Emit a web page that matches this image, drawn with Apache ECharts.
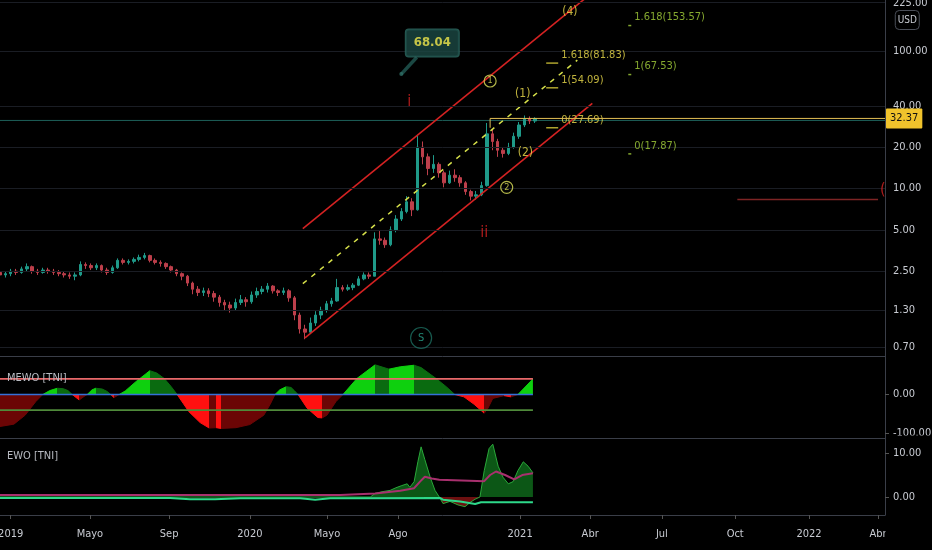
<!DOCTYPE html>
<html><head><meta charset="utf-8">
<script src="https://cdn.jsdelivr.net/npm/echarts@6/dist/echarts.min.js"></script>
<style>html,body{margin:0;padding:0;background:#000}#c{width:932px;height:550px}</style>
</head><body><div id="c"></div><script>
const FONT = "'Liberation Sans Narrow','DejaVu Sans Condensed','Roboto Condensed',Roboto,sans-serif";

// x unit: week index of the chart (weekly candles)
const xMax = 165.4;
const monthTicks  = [2.0, 16.8, 31.6, 46.7, 61.1, 74.4, 97.2, 110.3, 123.7, 137.4, 151.2, 164.1];
const monthLabels = ['2019','Mayo','Sep','2020','Mayo','Ago','2021','Abr','Jul','Oct','2022','Abr'];

const priceTicks = [0.7, 1.3, 2.5, 5, 10, 20, 40, 100, 225];
const lastPrice = 32.37;

// weekly candles [open, close, low, high]
const candles = [
[2.45,2.35,2.2,2.55],[2.35,2.4,2.25,2.5],[2.4,2.5,2.3,2.6],[2.5,2.45,2.35,2.6],[2.45,2.6,2.4,2.7],
[2.6,2.7,2.5,2.85],[2.7,2.5,2.4,2.75],[2.5,2.45,2.35,2.6],[2.45,2.55,2.4,2.65],[2.55,2.5,2.4,2.65],
[2.5,2.45,2.35,2.6],[2.45,2.4,2.3,2.55],[2.4,2.35,2.25,2.5],[2.35,2.3,2.2,2.45],[2.3,2.35,2.15,2.45],
[2.35,2.8,2.3,2.95],[2.8,2.75,2.6,2.9],[2.75,2.65,2.55,2.85],[2.65,2.75,2.55,2.85],[2.75,2.55,2.45,2.8],
[2.55,2.45,2.35,2.65],[2.45,2.65,2.4,2.75],[2.65,3.0,2.6,3.1],[3.0,2.9,2.8,3.1],[2.9,2.95,2.8,3.05],
[2.95,3.05,2.85,3.15],[3.05,3.15,2.95,3.3],[3.15,3.25,3.05,3.4],[3.25,3.0,2.9,3.3],[3.0,2.9,2.8,3.1],
[2.9,2.85,2.7,3.0],[2.85,2.7,2.6,2.9],[2.7,2.55,2.45,2.75],[2.55,2.4,2.3,2.6],[2.4,2.3,2.15,2.45],
[2.3,2.05,1.95,2.35],[2.05,1.85,1.7,2.1],[1.85,1.75,1.65,1.95],[1.75,1.8,1.65,1.9],[1.8,1.72,1.62,1.88],
[1.72,1.62,1.5,1.8],[1.62,1.48,1.38,1.68],[1.48,1.42,1.3,1.55],[1.42,1.35,1.25,1.5],[1.35,1.48,1.3,1.58],
[1.48,1.55,1.42,1.68],[1.55,1.5,1.38,1.62],[1.5,1.68,1.45,1.78],[1.68,1.78,1.6,1.9],[1.78,1.85,1.7,1.95],
[1.85,1.95,1.75,2.05],[1.95,1.8,1.72,1.98],[1.8,1.75,1.65,1.85],[1.75,1.8,1.68,1.9],[1.8,1.6,1.5,1.85],
[1.6,1.2,1.1,1.65],[1.2,0.95,0.88,1.25],[0.95,0.9,0.8,1.02],[0.9,1.05,0.88,1.15],[1.05,1.2,1.0,1.28],
[1.2,1.3,1.12,1.38],[1.3,1.45,1.25,1.52],[1.45,1.52,1.38,1.6],[1.52,1.9,1.5,2.2],[1.9,1.85,1.78,1.98],
[1.85,1.9,1.8,2.0],[1.9,1.98,1.82,2.05],[1.98,2.2,1.95,2.3],[2.2,2.35,2.15,2.45],[2.35,2.3,2.2,2.45],
[2.3,4.3,2.3,4.8],[4.3,4.2,3.9,4.9],[4.2,3.9,3.7,4.4],[3.9,5.0,3.8,5.3],[5.0,6.0,4.8,6.4],
[6.0,6.8,5.8,7.2],[6.8,8.0,6.6,8.8],[8.0,7.0,6.3,8.5],[7.0,20,6.9,24.4],[20,17,15,22],
[17,14,12.5,18],[14,15,13,17.5],[15,13,12,15.5],[13,11,10.2,13.5],[11,12.5,10.8,13.5],
[12.5,12,11.2,13.8],[12,11,10.3,12.5],[11,9.5,9.0,11.3],[9.5,8.8,8.2,9.8],[8.8,9.0,8.3,9.6],
[9.0,10.5,8.8,11.2],[10.5,25,10.3,30],[25,22,19,27],[22,19,17,23],[19,18,16.8,20],
[18,20,17.5,21.5],[20,24,19.5,25.5],[24,29,23,30.5],[29,32,28,34],[32,31,29.5,33.5],
[31,32.37,30,33]
];

// drawings on the price pane [week, price]
const channelUpper = [[56.6, 5.11], [110.3, 258.9]];
const channelLower = [[57.0, 0.817], [110.7, 41.7]];
const channelMid   = [[56.6, 2.03], [107.9, 86.0]];
const redLevel     = [[137.8, 8.31], [164.1, 8.31]];
const tealLevel    = [[0, 31.3], [xMax, 31.3]];
const priceLine    = [[91.6, 27.69], [91.6, lastPrice], [xMax, lastPrice]];
const callout      = [75.0, 68.04, '68.04'];
const calloutTail  = [[75.0, 68.04], [77.9, 90.2]];
const redWaveLabels    = [[76.5, 42.7, 'i'], [90.5, 4.77, 'ii'], [165.0, 9.83, '(']];
const yellowWaveLabels = [[106.5, 192.6, '(4)'], [97.7, 48.5, '(1)'], [98.2, 18.3, '(2)']];
const circledLabels    = [[91.6, 60.6, '1'], [94.7, 10.2, '2']];
const sLabel           = [78.7, 0.817, 'S'];
const fibYellow = [[103.2, 81.83, '1.618(81.83)'], [103.2, 54.09, '1(54.09)'], [103.2, 27.69, '0(27.69)']];
const fibGreen  = [[117.7, 153.57, '1.618(153.57)'], [117.7, 67.53, '1(67.53)'], [117.7, 17.87, '0(17.87)']];

// MEWO oscillator [week, value]
const mewo = [[0,-82],[2.6,-76],[4.7,-53],[6.7,-18],[8.0,0],[9.3,10],[10.7,16],[11.8,15],[12.7,10],[13.5,0],
[14.8,-14],[15.7,-5],[16.3,0],[17.2,12],[17.9,16],[19.1,14],[20.0,8],[20.7,0],[21.3,-8],[21.9,-3],[22.2,0],
[23.4,9],[25.4,33],[28.0,61],[29.3,55],[30.7,41],[32.0,20],[33.1,0],[34.2,-22],[35.3,-44],[37.4,-72],
[39.1,-86],[40.4,-85],[41.3,-87],[44.1,-85],[46.7,-77],[49.3,-53],[50.5,-25],[51.4,0],[52.3,12],[53.5,20],
[54.4,18],[55.0,10],[55.7,0],[57.4,-35],[59.4,-59],[60.2,-60],[61.1,-53],[62.8,-18],[64.1,0],[66.7,41],
[70.1,76],[72.7,65],[74.8,71],[77.4,75],[78.7,69],[81.5,41],[83.4,20],[85.0,0],[86.7,-6],[88.6,-25],
[90.5,-48],[91.2,-35],[92.1,-10],[94.2,-3],[95.5,-6],[96.8,0],[99.6,40]];
const mewoEnd = 99.6;
const mewoLevels = [40, 0, -40];

// EWO histogram and signal lines [week, value]
const ewoHist = [[0,0],[69.2,0],[70.1,0.8],[71.4,1.2],[72.9,1.5],[74.0,2.1],[75.1,2.6],[76.1,3.0],[76.6,2.2],
[77.4,3.5],[78.1,8],[78.7,11.4],[79.4,8.5],[80.4,4.5],[81.3,1.5],[82.1,0],[82.8,-1.5],[84.1,-1.0],[85.6,-1.8],
[86.9,-2.2],[87.9,-1.2],[88.8,-0.5],[89.7,0],[90.5,6],[91.4,11],[92.1,12],[93.1,7],[94.0,4.5],[95.0,3],
[95.9,3.5],[96.8,6],[97.8,8],[98.7,7],[99.6,5.5]];
const ewoSignal = [[0,0.45],[63.6,0.45],[70.1,0.8],[74.8,1.4],[77.4,2.0],[78.5,3.5],[79.4,4.6],[80.7,4.2],
[82.1,3.9],[90.5,3.6],[91.6,5.0],[92.7,5.8],[94.4,5.0],[96.1,4.0],[97.6,5.0],[99.6,5.4]];
const ewoSlow = [[0,-0.2],[31.8,-0.2],[35.5,-0.5],[40.2,-0.5],[44.9,-0.3],[56.1,-0.3],[58.9,-0.6],[61.7,-0.3],
[82.2,-0.2],[82.8,-0.6],[86.0,-1.0],[88.8,-1.6],[89.9,-1.2],[99.6,-1.2]];

// ---------- styling ----------
const LABEL = '#c8cbd2', AXIS = '#3a3e48', GRIDLINE = '#1a1d24';
const YEL = '#efdf4c', GRN = '#a5d13b', RED = '#d42222';
const FS = 11;

const mewoPieces = [];
for (let i = 0; i < mewo.length - 1; i++) {
  const a = mewo[i], b = mewo[i + 1];
  const pos = a[1] + b[1] > 0, up = b[1] > a[1];
  const color = pos ? (up ? '#0ed00e' : '#0a6b10') : (up ? '#6b0505' : '#ff1010');
  const p = {gte: a[0], color};
  if (i === mewo.length - 2) p.lte = b[0]; else p.lt = b[0];
  mewoPieces.push(p);
}

const hidden = 'rgba(0,0,0,0)';
const annotations = [];
annotations.push({value: [callout[0], callout[1]], symbol: 'circle', symbolSize: 4,
  itemStyle: {color: '#2f6f66'},
  label: {show: true, position: 'inside', offset: [31, -31], formatter: callout[2], color: '#f3e84c',
    fontWeight: 'bold', fontSize: 13, backgroundColor: '#1b4843', borderColor: '#2f6f66', borderWidth: 1,
    borderRadius: 3, padding: [7, 8]}});
redWaveLabels.forEach(d => annotations.push({value: [d[0], d[1]], symbolSize: 1, itemStyle: {color: hidden},
  label: {show: true, position: 'inside', formatter: d[2], color: RED, fontSize: 16}}));
yellowWaveLabels.forEach(d => annotations.push({value: [d[0], d[1]], symbolSize: 1, itemStyle: {color: hidden},
  label: {show: true, position: 'inside', formatter: d[2], color: YEL, fontSize: 12}}));
circledLabels.forEach(d => annotations.push({value: [d[0], d[1]], symbol: 'circle', symbolSize: 12,
  itemStyle: {color: hidden, borderColor: '#dfe25a', borderWidth: 1.2},
  label: {show: true, position: 'inside', formatter: d[2], color: '#dfe25a', fontSize: 9}}));
annotations.push({value: [sLabel[0], sLabel[1]], symbol: 'circle', symbolSize: 21,
  itemStyle: {color: hidden, borderColor: '#1d6f61', borderWidth: 1.2},
  label: {show: true, position: 'inside', formatter: sLabel[2], color: '#2aa58f', fontSize: 11}});
fibYellow.forEach(d => annotations.push({value: [d[0], d[1]], symbol: 'rect', symbolSize: [12, 1.5],
  itemStyle: {color: '#d9cc3a'},
  label: {show: true, position: 'right', distance: 3, offset: [0, -8], formatter: d[2], color: YEL, fontSize: FS}}));
fibGreen.forEach(d => annotations.push({value: [d[0], d[1]], symbol: 'rect', symbolSize: [3, 1.5],
  itemStyle: {color: GRN},
  label: {show: true, position: 'right', distance: 3, offset: [0, -8], formatter: d[2], color: GRN, fontSize: FS}}));

function seg(data, color, width, extra) {
  return Object.assign({type: 'line', xAxisIndex: 0, yAxisIndex: 0, data, symbol: 'none', silent: true,
    lineStyle: {color, width}, z: 3}, extra || {});
}

const fmt2 = v => Number(v).toFixed(2);
const xAxisBase = i => ({type: 'value', gridIndex: i, min: 0, max: xMax,
  axisLine: {show: true, onZero: false, lineStyle: {color: AXIS}}, axisTick: {show: false}, axisLabel: {show: false},
  splitLine: {show: false}});
const yAxisLine = {show: true, onZero: false, lineStyle: {color: AXIS}};

const option = {
  backgroundColor: '#000',
  animation: false,
  textStyle: {fontFamily: FONT},
  title: [
    {text: 'USD', right: 12, top: 10, padding: [5, 3], borderColor: '#4a4e58', borderWidth: 1, borderRadius: 4,
     textStyle: {color: LABEL, fontSize: 10, fontWeight: 'normal', fontFamily: FONT}},
    {text: 'MEWO [TNI]', left: 7, top: 373, padding: 0, textStyle: {color: '#b8bbc2', fontSize: FS, fontWeight: 'normal', fontFamily: FONT}},
    {text: 'EWO [TNI]', left: 7, top: 451, padding: 0, textStyle: {color: '#b8bbc2', fontSize: FS, fontWeight: 'normal', fontFamily: FONT}}
  ],
  grid: [
    {left: 0, right: 47, top: 0, height: 356, outerBoundsMode: 'none', containLabel: false},
    {left: 0, right: 47, top: 356, height: 82, outerBoundsMode: 'none', containLabel: false},
    {left: 0, right: 47, top: 438, height: 77, outerBoundsMode: 'none', containLabel: false}
  ],
  xAxis: [
    xAxisBase(0), xAxisBase(1),
    Object.assign(xAxisBase(2), {
      axisTick: {show: true, length: 4, lineStyle: {color: '#555'}, customValues: monthTicks},
      axisLabel: {show: true, customValues: monthTicks, color: LABEL, fontSize: FS, margin: 14, fontFamily: FONT,
        formatter: v => {
          let best = 0;
          monthTicks.forEach((t, i) => { if (Math.abs(t - v) < Math.abs(monthTicks[best] - v)) best = i; });
          return monthLabels[best];
        }}
    })
  ],
  yAxis: [
    {type: 'log', gridIndex: 0, position: 'right', min: 0.604, max: 235.6,
     axisLine: yAxisLine, axisTick: {show: false}, axisLabel: {show: false}, splitLine: {show: false}},
    {type: 'value', gridIndex: 1, position: 'right', min: -111.5, max: 98.7,
     axisLine: yAxisLine,
     axisTick: {show: true, length: 4, lineStyle: {color: '#555'}, customValues: [-100, 0]},
     axisLabel: {show: true, customValues: [-100, 0], formatter: fmt2, color: LABEL, fontSize: FS, margin: 8, fontFamily: FONT},
     splitLine: {show: false}},
    {type: 'value', gridIndex: 2, position: 'right', min: -4.09, max: 13.41,
     axisLine: yAxisLine,
     axisTick: {show: true, length: 4, lineStyle: {color: '#555'}, customValues: [0, 10]},
     axisLabel: {show: true, customValues: [0, 10], formatter: fmt2, color: LABEL, fontSize: FS, margin: 8, fontFamily: FONT},
     splitLine: {show: false}}
  ],
  visualMap: [
    {type: 'piecewise', show: false, seriesIndex: 10, dimension: 0, pieces: mewoPieces},
    {type: 'piecewise', show: false, seriesIndex: 14, dimension: 1,
     pieces: [{gte: -5, lt: 0, color: '#6d1010'}, {gte: 0, lte: 14, color: '#0c5716'}]}
  ],
  series: [
    // 0 price grid lines + tick labels
    {type: 'line', xAxisIndex: 0, yAxisIndex: 0, data: [[1, 1]], symbol: 'none', silent: true,
     lineStyle: {opacity: 0}, z: 1,
     markLine: {silent: true, symbol: 'none', animation: false,
       lineStyle: {color: GRIDLINE, width: 1, type: 'solid'},
       label: {show: true, position: 'end', distance: 8, formatter: p => fmt2(p.value), color: LABEL, fontSize: FS, fontFamily: FONT},
       data: priceTicks.map(v => ({yAxis: v}))}},
    // 1 candles
    {type: 'candlestick', xAxisIndex: 0, yAxisIndex: 0, z: 2,
     data: candles.map((c, i) => [i, c[0], c[1], c[2], c[3]]),
     encode: {x: 0, y: [1, 2, 3, 4]}, barWidth: 3,
     itemStyle: {color: '#1f9a89', color0: '#bd3f4b', borderColor: '#1f9a89', borderColor0: '#bd3f4b', borderWidth: 1}},
    // 2 teal level
    seg(tealLevel, '#1d5f59', 1, {z: 2}),
    // 3-5 channel
    seg(channelUpper, RED, 1.6),
    seg(channelLower, RED, 1.6),
    seg(channelMid, '#d6e04a', 1.5, {lineStyle: {color: '#d6e04a', width: 1.5, type: [5, 6]}}),
    // 6 red level
    seg(redLevel, '#7e2424', 1.6),
    // 7 callout tail
    seg(calloutTail, '#1b4843', 3.5),
    // 8 annotations
    {type: 'scatter', xAxisIndex: 0, yAxisIndex: 0, data: annotations, silent: true, z: 6},
    // 9 price line with last-price label
    seg(priceLine, '#e2bf55', 1, {z: 8,
      endLabel: {show: true, formatter: fmt2(lastPrice), color: '#111', backgroundColor: '#f0c32c',
        fontSize: FS, padding: [5, 4, 4, 4], distance: 1, borderRadius: 1, fontFamily: FONT}}),
    // 10 MEWO area
    {type: 'line', xAxisIndex: 1, yAxisIndex: 1, data: mewo, symbol: 'none', silent: true, z: 2,
     lineStyle: {width: 1}, areaStyle: {opacity: 1}},
    // 11-13 MEWO levels
    {type: 'line', xAxisIndex: 1, yAxisIndex: 1, data: [[0, mewoLevels[0]], [mewoEnd, mewoLevels[0]]], symbol: 'none', silent: true, z: 3, lineStyle: {color: '#e9686a', width: 1.6}},
    {type: 'line', xAxisIndex: 1, yAxisIndex: 1, data: [[0, mewoLevels[1]], [mewoEnd, mewoLevels[1]]], symbol: 'none', silent: true, z: 3, lineStyle: {color: '#3570d8', width: 1.6}},
    {type: 'line', xAxisIndex: 1, yAxisIndex: 1, data: [[0, mewoLevels[2]], [mewoEnd, mewoLevels[2]]], symbol: 'none', silent: true, z: 3, lineStyle: {color: '#4f8a3a', width: 1.6}},
    // 14 EWO histogram
    {type: 'line', xAxisIndex: 2, yAxisIndex: 2, data: ewoHist, symbol: 'none', silent: true, z: 2,
     lineStyle: {color: '#2aa83a', width: 1}, areaStyle: {opacity: 1}},
    // 15-16 EWO signal lines
    {type: 'line', xAxisIndex: 2, yAxisIndex: 2, data: ewoSignal, symbol: 'none', silent: true, z: 3, lineStyle: {color: '#a8306e', width: 2}},
    {type: 'line', xAxisIndex: 2, yAxisIndex: 2, data: ewoSlow, symbol: 'none', silent: true, z: 3, lineStyle: {color: '#2ed98a', width: 2}}
  ],
  graphic: [
    {type: 'rect', shape: {x: 886, y: 435.5, width: 46, height: 10}, style: {fill: '#000'}, z: 100, silent: true},
    {type: 'rect', shape: {x: 885.5, y: 516, width: 47, height: 34}, style: {fill: '#000'}, z: 100, silent: true}
  ]
};

const chart = echarts.init(document.getElementById('c'), null, {renderer: 'canvas'});
chart.setOption(option);
</script></body></html>
